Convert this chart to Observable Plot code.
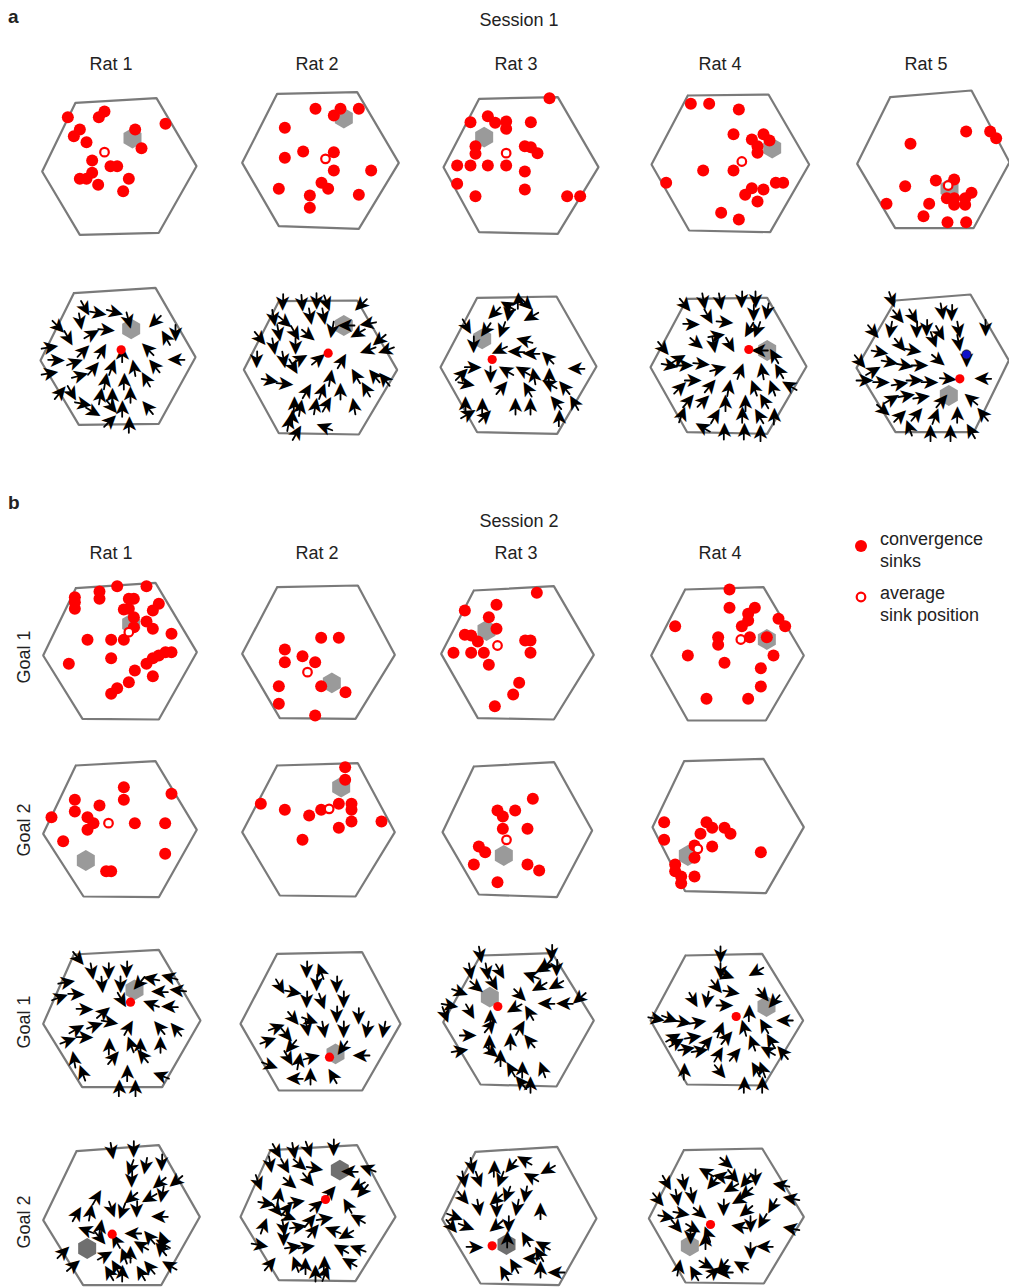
<!DOCTYPE html>
<html><head><meta charset="utf-8">
<script src="https://cdn.jsdelivr.net/npm/d3@7"></script>
<script src="https://cdn.jsdelivr.net/npm/@observablehq/plot@0.6"></script>
<style>
body{margin:0;background:#fff;}
#fig{position:relative;width:1009px;height:1288px;overflow:hidden;font-family:"Liberation Sans",Arial,sans-serif;color:#222;}
.lbl{position:absolute;font-size:18px;white-space:nowrap;line-height:20px;}
.c{transform:translateX(-50%);}
.bold{font-weight:bold;font-size:19px;}
.v{transform:translate(-50%,-50%) rotate(-90deg);}
</style></head><body><div id="fig"></div><script>
// ---------- labels ----------
const session1Rats = ["Rat 1","Rat 2","Rat 3","Rat 4","Rat 5"];
const session2Rats = ["Rat 1","Rat 2","Rat 3","Rat 4"];
const goalLabels = ["Goal 1","Goal 2","Goal 1","Goal 2"];
const legendLabels = [["convergence","sinks"],["average","sink position"]];

// ---------- Session 1: convergence sinks (arena units) ----------
const s1SinkArenas = [
  [[135,52],[378,38],[498,242],[385,442],[148,448],[35,258]],
  [[140,25],[380,20],[505,232],[385,430],[145,422],[35,232]],
  [[146,40],[382,35],[504,245],[382,445],[146,440],[39,245]],
  [[157,30],[399,27],[521,237],[404,440],[161,435],[48,237]],
  [[149,35],[393,15],[507,230],[399,428],[164,428],[50,235]]
];
const s1SinkGoals = [[306,158],[340,98],[161,155],[410,188],[327,310]];
const s1SinkMeans = [[222,200],[285,220],[227,203],[319,228],[323,300]];
const s1Rat1Sinks = [[112,95],[222,78],[205,95],[148,132],[130,152],[168,170],[314,132],[333,188],[405,115],[185,225],[240,242],[260,242],[185,262],[148,280],[168,280],[203,298],[295,280],[278,317]];
const s1Rat2Sinks = [[255,70],[330,70],[310,90],[385,70],[163,127],[163,217],[218,198],[310,200],[310,255],[422,255],[145,310],[273,292],[293,310],[238,330],[238,367],[385,328]];
const s1Rat3Sinks = [[357,38],[120,110],[172,92],[194,112],[227,108],[227,130],[301,110],[135,182],[135,205],[283,182],[301,185],[321,203],[80,240],[120,240],[172,240],[227,240],[283,258],[80,295],[283,312],[135,332],[410,332],[449,332]];
const s1Rat4Sinks = [[166,55],[221,55],[310,72],[294,146],[349,162],[384,146],[402,165],[366,182],[366,202],[203,255],[294,255],[92,292],[349,308],[329,328],[384,312],[421,292],[443,292],[366,348],[257,382],[310,402]];
const s1Rat5Sinks = [[377,138],[449,138],[467,158],[210,175],[194,302],[286,285],[341,282],[138,355],[266,355],[319,338],[341,338],[341,358],[374,338],[374,358],[393,322],[249,392],[321,410],[377,410]];

// ---------- Session 1: vector fields [x, y, direction in degrees] ----------
const s1FieldArenas = [
  [[130,38],[375,22],[495,230],[385,430],[145,433],[30,240]],
  [[145,62],[380,60],[500,268],[385,462],[145,458],[40,268]],
  [[140,52],[378,48],[498,258],[380,460],[140,455],[30,260]],
  [[155,55],[395,52],[513,258],[395,460],[155,455],[45,260]],
  [[165,60],[390,42],[505,240],[400,455],[165,455],[48,262]]
];
const s1FieldGoals = [[302,145],[340,135],[155,175],[395,210],[325,345]];
const s1FieldSinks = [[272,208],[293,218],[185,237],[340,207],[358,295]];
const s1Rat5SecondSink = [378,222];
const s1Rat1Arrows = [[165,85,150],[205,98,100],[255,95,105],[295,122,165],[372,125,225],[150,125,170],[85,140,135],[185,160,60],[230,148,95],[405,170,330],[435,160,180],[115,175,150],[60,200,80],[160,210,45],[215,210,30],[275,218,0],[350,205,315],[80,238,90],[135,245,70],[190,262,40],[245,258,20],[310,260,350],[370,255,320],[435,238,270],[60,278,80],[150,285,75],[225,300,10],[280,300,0],[345,295,330],[90,335,40],[125,340,150],[210,345,10],[245,345,0],[300,340,0],[160,370,100],[190,395,120],[245,380,140],[275,382,0],[350,380,320],[240,420,45],[295,430,0]];
const s1Rat2Arrows = [[158,68,180],[215,70,175],[258,65,180],[290,70,160],[390,75,225],[130,115,170],[165,125,130],[240,110,170],[280,110,170],[345,135,270],[410,130,260],[90,175,140],[145,160,170],[195,160,150],[235,165,130],[305,150,190],[380,160,240],[445,180,230],[130,200,170],[195,200,180],[410,210,250],[465,210,250],[80,240,180],[160,240,170],[210,235,60],[265,235,50],[335,240,30],[190,260,150],[120,300,100],[165,310,95],[375,285,330],[430,285,320],[460,295,320],[230,330,30],[275,330,20],[300,290,10],[330,330,0],[405,325,330],[190,370,0],[210,380,10],[255,375,10],[290,370,30],[370,375,350],[185,410,0],[175,425,10],[200,455,30],[280,440,290]];
const s1Rat3Arrows = [[230,75,300],[262,58,0],[290,72,135],[190,100,225],[235,100,190],[300,110,240],[110,140,150],[165,150,215],[215,150,200],[130,195,180],[280,180,285],[205,210,245],[255,215,270],[300,220,270],[350,230,315],[95,280,45],[130,260,90],[180,285,180],[225,270,300],[275,270,300],[310,285,350],[355,285,0],[435,265,270],[110,310,100],[215,320,40],[290,325,330],[355,310,300],[400,320,320],[105,370,0],[155,375,0],[255,375,0],[300,375,0],[375,365,320],[430,365,330],[115,400,60],[165,405,45],[385,410,0]];
const s1Rat4Arrows = [[150,75,140],[205,65,170],[255,65,170],[320,60,180],[360,60,180],[220,110,150],[270,125,95],[355,100,180],[395,95,190],[170,130,90],[245,165,80],[340,150,210],[365,150,200],[85,205,140],[185,190,130],[235,195,170],[285,195,150],[370,210,270],[415,225,330],[130,235,60],[105,255,100],[150,255,90],[200,250,95],[250,265,75],[315,270,20],[380,270,350],[430,270,330],[175,300,90],[225,315,40],[280,320,10],[355,320,340],[410,320,340],[460,315,300],[135,320,45],[160,360,40],[205,360,45],[270,365,0],[330,365,0],[385,360,330],[140,400,20],[240,405,30],[320,400,0],[370,405,330],[415,405,0],[200,440,300],[265,450,0],[325,450,0],[375,455,0]];
const s1Rat5Arrows = [[155,60,160],[175,110,140],[220,110,150],[305,95,170],[335,100,180],[100,155,140],[150,150,190],[230,150,180],[260,145,180],[300,160,150],[355,150,170],[435,145,180],[120,215,100],[180,195,140],[220,210,100],[280,180,160],[355,190,170],[60,245,140],[150,245,100],[195,255,100],[240,255,90],[295,240,130],[378,238,180],[100,270,60],[75,300,90],[125,305,90],[180,310,80],[225,300,90],[270,305,90],[325,295,95],[425,295,270],[155,355,60],[200,345,80],[245,350,80],[305,360,40],[390,355,310],[130,390,130],[180,405,45],[230,400,40],[285,405,20],[350,400,0],[425,400,320],[205,440,340],[270,455,0],[330,455,0],[390,450,330]];

// ---------- Session 2: convergence sinks ----------
const s2G1SinkArenas = [
  [[136,38],[375,22],[499,230],[385,432],[156,430],[38,240]],
  [[140,35],[382,30],[493,238],[375,430],[148,428],[35,235]],
  [[130,45],[370,32],[490,238],[370,432],[142,428],[32,235]],
  [[149,42],[384,35],[505,240],[391,435],[157,435],[47,240]]
];
const s2G1SinkGoals = [[302,145],[304,322],[168,165],[394,192]];
const s2G1SinkMeans = [[295,170],[231,290],[201,210],[316,192]];
const s2G1Rat1Sinks = [[260,32],[348,32],[133,65],[133,100],[133,80],[207,48],[207,70],[295,70],[310,70],[385,85],[367,105],[280,102],[295,100],[310,125],[348,138],[367,160],[310,155],[423,175],[171,193],[242,193],[280,193],[242,248],[115,265],[348,265],[367,248],[385,240],[405,230],[423,230],[313,285],[367,302],[295,320],[260,338],[242,355]];
const s2G1Rat2Sinks = [[272,187],[325,187],[163,222],[163,260],[216,242],[254,260],[145,332],[145,385],[272,332],[345,350],[254,420]];
const s2G1Rat3Sinks = [[319,52],[103,105],[198,88],[175,125],[198,160],[103,178],[122,180],[142,198],[69,232],[122,232],[160,232],[284,195],[300,195],[300,232],[175,268],[266,322],[248,357],[193,392]];
const s2G1Rat4Sinks = [[282,42],[282,97],[358,97],[338,115],[338,135],[319,152],[429,130],[449,152],[119,152],[248,185],[248,208],[343,185],[394,185],[157,240],[267,262],[414,240],[376,278],[376,333],[213,370],[338,370]];

const s2G2SinkArenas = [
  [[136,45],[375,32],[499,238],[385,440],[159,438],[38,250]],
  [[140,45],[382,38],[493,245],[375,438],[148,435],[35,245]],
  [[130,48],[371,35],[485,240],[379,440],[145,432],[36,245]],
  [[146,32],[384,25],[505,230],[391,428],[149,422],[51,230]]
];
const s2G2SinkGoals = [[166,330],[332,110],[220,315],[157,315]];
const s2G2SinkMeans = [[234,218],[296,175],[228,268],[187,295]];
const s2G2Rat1Sinks = [[63,200],[133,148],[133,183],[207,165],[171,200],[189,218],[171,238],[280,110],[280,148],[313,218],[423,130],[404,218],[98,272],[404,310],[227,362],[242,362]];
const s2G2Rat2Sinks = [[344,50],[344,88],[91,160],[163,178],[236,195],[272,178],[325,160],[363,160],[363,178],[363,213],[325,232],[453,213],[216,268]];
const s2G2Rat3Sinks = [[307,145],[201,180],[217,198],[254,180],[217,235],[291,235],[145,288],[164,305],[130,342],[291,342],[326,360],[201,395]];
const s2G2Rat4Sinks = [[86,215],[86,268],[213,215],[230,232],[267,232],[285,250],[195,250],[230,288],[177,285],[376,305],[119,342],[177,322],[119,362],[137,378],[177,378],[137,398]];

// ---------- Session 2: vector fields ----------
const s2G1FieldArenas = [
  [[130,42],[385,28],[510,240],[395,440],[155,440],[38,250]],
  [[140,40],[395,35],[510,250],[395,450],[145,450],[30,250]],
  [[150,45],[365,38],[490,240],[378,438],[150,432],[38,245]],
  [[150,45],[380,40],[503,240],[385,435],[155,432],[45,240]]
];
const s2G1FieldGoals = [[312,148],[315,340],[178,170],[393,198]];
const s2G1FieldSinks = [[300,185],[297,350],[202,198],[302,228]];
const s2G1Rat1Arrows = [[145,55,140],[185,95,170],[235,95,180],[290,90,180],[110,125,80],[215,135,175],[270,135,180],[325,130,220],[360,115,280],[415,110,285],[140,160,90],[90,170,70],[275,180,150],[385,155,270],[440,150,275],[165,205,90],[220,215,50],[360,190,290],[415,200,270],[140,265,60],[195,255,70],[240,245,100],[295,260,30],[385,260,320],[435,265,320],[115,300,70],[165,290,90],[235,315,0],[300,310,340],[330,315,0],[390,310,0],[130,355,350],[250,350,40],[335,345,320],[155,395,340],[290,395,0],[390,405,290],[265,440,0],[315,440,0]];
const s2G1Rat2Arrows = [[230,90,180],[270,90,340],[150,140,150],[190,155,100],[260,130,180],[320,135,180],[230,180,180],[275,185,160],[340,180,180],[190,235,140],[240,240,110],[320,225,180],[385,230,180],[140,260,70],[170,285,140],[230,265,170],[280,270,170],[340,270,180],[410,270,190],[460,270,190],[115,300,70],[180,320,220],[245,350,75],[335,325,215],[390,345,270],[120,375,110],[175,355,150],[205,360,10],[240,405,0],[305,405,330],[190,415,270]];
const s2G1Rat3Arrows = [[150,45,170],[120,95,170],[170,95,170],[210,95,150],[365,40,180],[335,85,240],[345,78,220],[380,85,180],[300,105,290],[140,140,130],[190,130,150],[90,155,110],[325,140,240],[375,135,240],[270,165,135],[445,175,230],[60,195,100],[45,225,160],[120,215,150],[345,190,270],[400,190,270],[250,205,240],[295,215,330],[180,230,0],[270,260,30],[180,255,40],[115,285,90],[240,300,0],[295,300,320],[175,305,0],[90,330,80],[185,335,130],[210,350,0],[240,385,330],[275,385,0],[335,385,340],[270,425,320],[300,430,0]];
const s2G1Rat4Arrows = [[255,45,180],[255,95,180],[275,105,110],[360,95,240],[245,140,140],[290,155,100],[175,180,150],[215,180,190],[270,195,90],[385,165,140],[415,185,220],[65,235,100],[105,235,110],[145,245,100],[190,245,80],[340,215,0],[445,240,270],[115,290,60],[175,290,80],[255,265,20],[275,290,40],[325,260,345],[385,255,330],[125,305,60],[215,305,40],[350,305,340],[405,300,330],[155,325,80],[195,330,80],[250,340,30],[300,340,40],[395,330,300],[440,335,320],[145,390,0],[255,395,140],[360,385,330],[380,385,340],[325,430,0],[380,430,0]];

const s2G2FieldArenas = [
  [[138,38],[385,20],[508,235],[392,440],[158,440],[38,245]],
  [[120,35],[380,20],[495,235],[375,428],[145,425],[30,235]],
  [[135,40],[380,25],[498,240],[385,440],[150,435],[35,242]],
  [[145,35],[380,30],[505,235],[385,435],[150,432],[40,240]]
];
const s2G2FieldGoals = [[170,330],[328,95],[228,318],[163,322]];
const s2G2FieldGoalShades = ["#6f6f6f","#6f6f6f","#6f6f6f","#9a9a9a"];
const s2G2FieldSinks = [[245,287],[285,183],[185,322],[225,258]];
const s2G2Rat1Arrows = [[245,40,170],[310,35,180],[300,90,200],[345,85,190],[395,75,180],[305,125,180],[385,135,230],[435,130,230],[200,175,30],[300,180,230],[355,180,240],[395,170,190],[140,225,30],[180,220,10],[245,215,160],[275,220,200],[320,215,180],[385,235,270],[210,265,10],[165,275,290],[305,285,270],[355,295,320],[395,300,340],[395,315,300],[210,300,140],[255,305,330],[330,320,300],[390,330,320],[100,340,45],[225,350,60],[280,350,340],[300,345,0],[130,380,50],[255,385,330],[355,385,320],[415,380,300],[235,402,330],[275,402,0],[330,402,330]];
const s2G2Rat2Arrows = [[140,40,150],[190,40,170],[235,35,160],[310,30,180],[120,80,170],[165,85,150],[210,80,130],[255,90,100],[355,100,270],[410,90,290],[85,135,160],[180,135,130],[235,125,140],[380,145,240],[395,160,220],[110,195,100],[145,170,10],[200,190,80],[260,200,50],[300,160,40],[350,200,330],[100,260,20],[140,215,140],[170,210,40],[175,235,110],[240,245,40],[285,240,80],[380,240,300],[160,270,170],[205,265,80],[250,275,40],[305,275,290],[345,290,240],[90,320,100],[160,300,180],[190,325,80],[230,325,80],[330,330,300],[380,330,290],[120,375,40],[195,375,340],[225,380,0],[280,375,0],[355,370,300],[255,402,0],[285,402,20]];
const s2G2Rat3Arrows = [[125,85,170],[190,88,0],[240,85,220],[280,65,300],[350,95,240],[100,125,170],[145,125,160],[210,125,200],[300,115,300],[100,180,140],[195,185,230],[230,170,200],[285,170,190],[330,215,0],[145,210,170],[200,215,180],[260,210,190],[75,235,110],[65,265,140],[110,265,110],[195,265,230],[235,260,180],[135,325,90],[230,300,0],[285,300,330],[335,320,300],[325,345,330],[300,360,270],[250,380,330],[330,390,0],[375,402,270],[220,402,330]];
const s2G2Rat4Arrows = [[275,75,130],[210,100,300],[255,115,280],[295,115,140],[330,130,220],[360,120,180],[95,135,150],[145,135,170],[230,135,220],[285,150,240],[330,165,230],[435,140,280],[70,185,140],[125,180,170],[170,175,170],[310,185,240],[410,205,210],[465,180,280],[95,235,100],[140,225,100],[195,225,130],[265,210,180],[330,220,230],[125,265,140],[175,270,120],[215,285,340],[345,260,180],[380,250,210],[310,265,280],[465,270,280],[165,295,180],[210,305,0],[385,325,270],[345,340,180],[130,385,10],[175,402,330],[215,380,120],[260,385,220],[265,402,270],[315,380,300],[235,400,50]];

// ---------- drawing ----------
const fig = document.getElementById("fig");
const X = d => d[0], Y = d => d[1];

function panel(p, left, top) {
  const marks = [
    Plot.line([...p.arena, p.arena[0]], {x: X, y: Y, stroke: "#7a7a7a", strokeWidth: 2.2, strokeLinejoin: "miter"}),
    Plot.dot([p.goal], {x: X, y: Y, symbol: "hexagon", r: 9, fill: p.goalFill || "#9a9a9a", stroke: "none"})
  ];
  if (p.sinks) marks.push(Plot.dot(p.sinks, {x: X, y: Y, r: 6, fill: "#ff0000", stroke: "none"}));
  if (p.mean) marks.push(Plot.dot([p.mean], {x: X, y: Y, r: 4.3, fill: "white", stroke: "#ff0000", strokeWidth: 2.2}));
  if (p.arrows) {
    // short shaft ending at the arrow centre, then a filled arrowhead glyph rotated to the vector's direction
    marks.push(Plot.vector(p.arrows, {x: X, y: Y, rotate: d => d[2], length: 9, anchor: "end", stroke: "black", strokeWidth: 1.8}));
    marks.push(Plot.text(p.arrows, {x: X, y: Y, text: () => "\u27A4", rotate: d => d[2] - 90, fontSize: 21, fontFamily: "DejaVu Sans", fill: "black"}));
  }
  if (p.sink) marks.push(Plot.dot([p.sink], {x: X, y: Y, r: 4.6, fill: "#ff0000", stroke: "none"}));
  if (p.blue) marks.push(Plot.dot([p.blue], {x: X, y: Y, r: 4.6, fill: "#1010c8", stroke: "#111", strokeWidth: 0.8}));
  const svg = Plot.plot({
    width: 180, height: 165, margin: 0,
    x: {domain: [0, 540], range: [0, 180], axis: null},
    y: {domain: [0, 495], range: [0, 165], axis: null},
    style: {background: "transparent", overflow: "visible"},
    marks
  });
  svg.style.position = "absolute";
  svg.style.left = left + "px";
  svg.style.top = top + "px";
  fig.appendChild(svg);
}

function label(text, x, y, cls) {
  const d = document.createElement("div");
  d.className = "lbl " + (cls || "");
  d.textContent = text;
  d.style.left = x + "px";
  d.style.top = (y - 10) + "px";
  fig.appendChild(d);
  return d;
}

const colX5 = [30, 230, 430, 635, 840];
const s1SinkList = [s1Rat1Sinks, s1Rat2Sinks, s1Rat3Sinks, s1Rat4Sinks, s1Rat5Sinks];
const s1ArrowList = [s1Rat1Arrows, s1Rat2Arrows, s1Rat3Arrows, s1Rat4Arrows, s1Rat5Arrows];
for (let i = 0; i < 5; i++) {
  panel({arena: s1SinkArenas[i], goal: s1SinkGoals[i], sinks: s1SinkList[i], mean: s1SinkMeans[i]}, colX5[i], 85);
  panel({arena: s1FieldArenas[i], goal: s1FieldGoals[i], arrows: s1ArrowList[i], sink: s1FieldSinks[i], blue: i === 4 ? s1Rat5SecondSink : null}, colX5[i], 280);
}
const s2G1SinkList = [s2G1Rat1Sinks, s2G1Rat2Sinks, s2G1Rat3Sinks, s2G1Rat4Sinks];
const s2G2SinkList = [s2G2Rat1Sinks, s2G2Rat2Sinks, s2G2Rat3Sinks, s2G2Rat4Sinks];
const s2G1ArrowList = [s2G1Rat1Arrows, s2G1Rat2Arrows, s2G1Rat3Arrows, s2G1Rat4Arrows];
const s2G2ArrowList = [s2G2Rat1Arrows, s2G2Rat2Arrows, s2G2Rat3Arrows, s2G2Rat4Arrows];
for (let i = 0; i < 4; i++) {
  panel({arena: s2G1SinkArenas[i], goal: s2G1SinkGoals[i], sinks: s2G1SinkList[i], mean: s2G1SinkMeans[i]}, colX5[i], 575);
  panel({arena: s2G2SinkArenas[i], goal: s2G2SinkGoals[i], sinks: s2G2SinkList[i], mean: s2G2SinkMeans[i]}, colX5[i], 750);
  panel({arena: s2G1FieldArenas[i], goal: s2G1FieldGoals[i], arrows: s2G1ArrowList[i], sink: s2G1FieldSinks[i]}, colX5[i], 940);
  panel({arena: s2G2FieldArenas[i], goal: s2G2FieldGoals[i], goalFill: s2G2FieldGoalShades[i], arrows: s2G2ArrowList[i], sink: s2G2FieldSinks[i]}, colX5[i], 1138);
}

// text
label("a", 8, 17, "bold");
label("Session 1", 519, 20, "c");
const s1LabelX = [111, 317, 516, 720, 926];
session1Rats.forEach((t, i) => label(t, s1LabelX[i], 64, "c"));
label("b", 8, 503, "bold");
label("Session 2", 519, 521, "c");
session2Rats.forEach((t, i) => label(t, s1LabelX[i], 553, "c"));
const goalY = [657, 830, 1022, 1222];
goalLabels.forEach((t, i) => label(t, 24, goalY[i] + 10, "v"));

// legend
const leg = document.createElementNS("http://www.w3.org/2000/svg", "svg");
leg.setAttribute("width", 30); leg.setAttribute("height", 80);
leg.style.position = "absolute"; leg.style.left = "846px"; leg.style.top = "530px";
leg.innerHTML = '<circle cx="15" cy="16" r="6" fill="#ff0000"/><circle cx="15" cy="67" r="4.3" fill="#fff" stroke="#ff0000" stroke-width="2.2"/>';
fig.appendChild(leg);
label(legendLabels[0][0], 880, 539);
label(legendLabels[0][1], 880, 561);
label(legendLabels[1][0], 880, 593);
label(legendLabels[1][1], 880, 615);
</script></body></html>
